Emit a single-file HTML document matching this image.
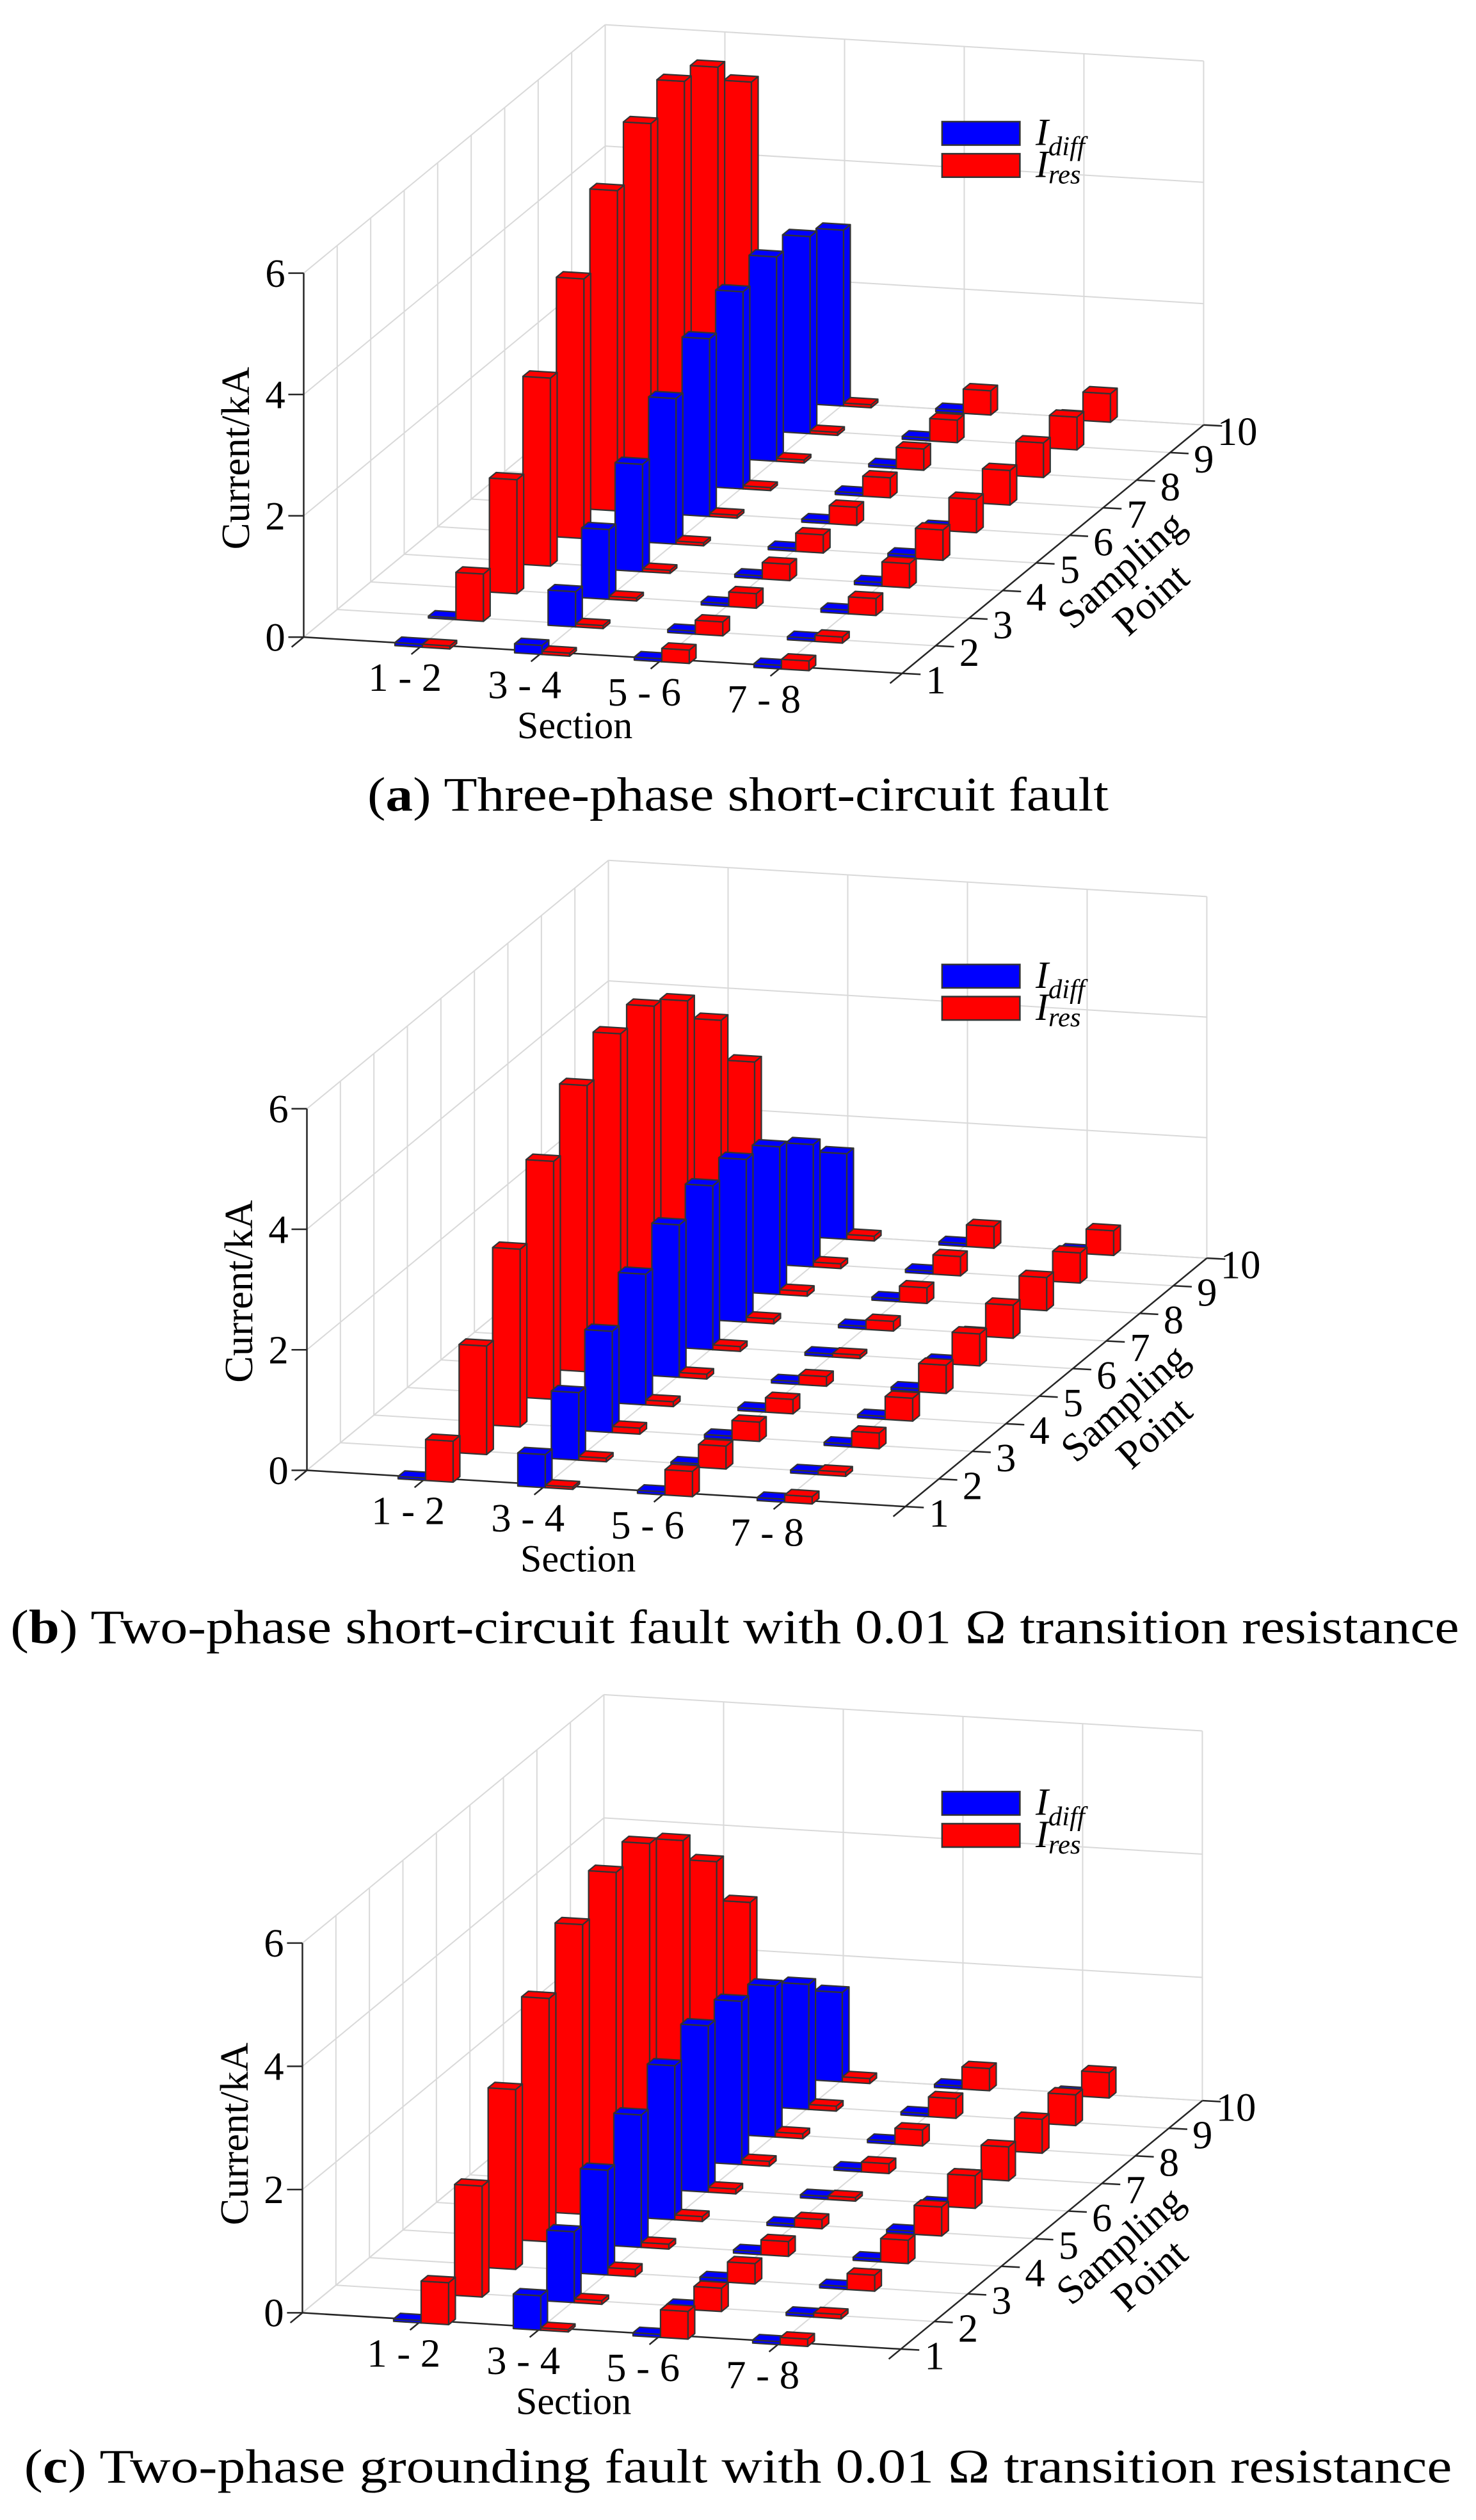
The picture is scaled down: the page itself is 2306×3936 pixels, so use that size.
<!DOCTYPE html>
<html><head><meta charset="utf-8"><style>
html,body{margin:0;padding:0;background:#fff;}
svg{display:block;font-family:"Liberation Serif","Times New Roman",Times,serif;}
svg text{font-family:"Liberation Serif","Times New Roman",Times,serif;fill:#000;}
</style></head>
<body>
<svg id="fig" xmlns="http://www.w3.org/2000/svg" width="2306" height="3936" viewBox="0 0 920 1570.3" preserveAspectRatio="none" font-family="Liberation Serif, Times New Roman, Times, serif">
<rect x="0" y="0" width="920" height="1570.3" fill="#fff"/>
<text x="460" y="505" text-anchor="middle" font-size="30" textLength="462" lengthAdjust="spacingAndGlyphs" font-family="Liberation Serif, Times New Roman, serif">(<tspan font-weight="bold">a</tspan>) Three-phase short-circuit fault</text>
<text x="458" y="1024" text-anchor="middle" font-size="30" textLength="903" lengthAdjust="spacingAndGlyphs" font-family="Liberation Serif, Times New Roman, serif">(<tspan font-weight="bold">b</tspan>) Two-phase short-circuit fault with 0.01 Ω transition resistance</text>
<text x="460" y="1547" text-anchor="middle" font-size="30" textLength="890" lengthAdjust="spacingAndGlyphs" font-family="Liberation Serif, Times New Roman, serif">(<tspan font-weight="bold">c</tspan>) Two-phase grounding fault with 0.01 Ω transition resistance</text>
</svg>
<script>
const sections = ['1 - 2','3 - 4','5 - 6','7 - 8'];
const samplingTicks = [1,2,3,4,5,6,7,8,9,10];
const zTicks = [0,2,4,6];
// panel (a) values, kA: one row per section, one value per sampling point
const aDiff = [
  [0.05,0.03,0.03,0.03,0.03,0.03,0.03,0.03,0.03,0.03],
  [0.15,0.58,1.15,1.77,2.40,2.93,3.25,3.37,3.25,2.90],
  [0.05,0.05,0.05,0.05,0.05,0.05,0.05,0.05,0.05,0.05],
  [0.06,0.05,0.06,0.06,0.06,0.06,0.06,0.06,0.06,0.06]];
const aRes = [
  [0.05,0.78,1.88,3.10,4.28,5.28,5.93,6.17,5.95,5.25],
  [0.05,0.05,0.05,0.05,0.05,0.05,0.05,0.05,0.05,0.05],
  [0.22,0.23,0.24,0.27,0.30,0.30,0.33,0.35,0.37,0.40],
  [0.16,0.10,0.28,0.40,0.50,0.55,0.57,0.57,0.54,0.47]];
const bDiff = [
  [0.04,0.03,0.03,0.03,0.03,0.03,0.03,0.03,0.03,0.03],
  [0.55,1.12,1.68,2.17,2.53,2.72,2.70,2.45,2.03,1.42],
  [0.05,0.06,0.06,0.05,0.05,0.05,0.05,0.05,0.05,0.05],
  [0.05,0.05,0.05,0.05,0.05,0.05,0.05,0.05,0.05,0.05]];
const bRes = [
  [0.68,1.80,2.95,3.95,4.75,5.15,5.15,4.78,4.00,2.85],
  [0.04,0.06,0.10,0.08,0.08,0.08,0.08,0.08,0.08,0.08],
  [0.42,0.38,0.32,0.24,0.16,0.06,0.16,0.26,0.32,0.36],
  [0.12,0.07,0.26,0.38,0.47,0.53,0.55,0.55,0.50,0.41]];
const cDiff = [
  [0.04,0.03,0.03,0.03,0.03,0.03,0.03,0.03,0.03,0.03],
  [0.56,1.15,1.70,2.15,2.50,2.70,2.65,2.45,2.03,1.45],
  [0.05,0.06,0.06,0.05,0.05,0.05,0.05,0.05,0.05,0.05],
  [0.05,0.05,0.05,0.05,0.05,0.05,0.05,0.05,0.05,0.05]];
const cRes = [
  [0.68,1.80,2.92,3.95,4.70,5.10,5.12,4.72,3.93,2.82],
  [0.04,0.06,0.12,0.08,0.08,0.08,0.08,0.08,0.08,0.08],
  [0.45,0.38,0.33,0.24,0.15,0.06,0.16,0.26,0.32,0.36],
  [0.12,0.07,0.26,0.38,0.47,0.53,0.55,0.55,0.50,0.41]];

const NS = 'http://www.w3.org/2000/svg';
const FF = 'Liberation Serif, Times New Roman, Times, serif';
const svg = document.getElementById('fig');
const SU = [74.6, 4.52], SV = [20.88, -17.2];
const panels = [
  {id:'a', ox:189.3, oy:397.0, zs:37.8, diff:aDiff, res:aRes, leg:75.8},
  {id:'b', ox:191.3, oy:916.2, zs:37.55, diff:bDiff, res:bRes, leg:601.0},
  {id:'c', ox:188.5, oy:1441.2, zs:38.4, diff:cDiff, res:cRes, leg:1116.4}
];
function mk(tag, attrs, parent){ const e=document.createElementNS(NS,tag); for(const k in attrs) e.setAttribute(k,attrs[k]); if(tag==='text') e.setAttribute('font-family', FF); (parent||svg).appendChild(e); return e; }
panels.forEach(p => {
  const g = mk('g', {});
  
  
  const P = (u,v,z) => [p.ox + u*SU[0] + v*SV[0], p.oy + u*SU[1] + v*SV[1] - z*p.zs];
  const uMax = 5, vMax = samplingTicks.length - 1, zMax = zTicks[zTicks.length-1];
  const line = (a,b,stroke,w,name) => { const l = mk('line',{x1:a[0],y1:a[1],x2:b[0],y2:b[1],stroke:stroke,'stroke-width':w},g);
    
     return l; };
  const GC = '#d9d9d9', GW = 0.8;
  for (let u=0; u<=uMax; u++) line(P(u,vMax,0), P(u,vMax,zMax), GC, GW, 'grid-line');
  zTicks.forEach(z => line(P(0,vMax,z), P(uMax,vMax,z), GC, GW, 'grid-line'));
  for (let v=0; v<=vMax; v++) line(P(0,v,0), P(0,v,zMax), GC, GW, 'grid-line');
  zTicks.forEach(z => line(P(0,0,z), P(0,vMax,z), GC, GW, 'grid-line'));
  for (let v=0; v<=vMax; v++) line(P(0,v,0), P(uMax,v,0), GC, GW, 'grid-line');
  for (let u=0; u<=uMax; u++) line(P(u,0,0), P(u,vMax,0), GC, GW, 'grid-line');
  const AC = '#262626';
  line(P(0,0,0), P(uMax,0,0), AC, 1, 'x-axis-line');
  line(P(uMax,0,0), P(uMax,vMax,0), AC, 1, 'y-axis-line');
  line(P(0,0,0), P(0,0,zMax), AC, 1, 'z-axis-line');
  for (let u=0; u<=uMax; u++) { const a=P(u,0,0); line(a,[a[0]-0.36*SV[0], a[1]-0.36*SV[1]], AC, 1, 'x-tick'); }
  sections.forEach((s,i) => { const a=P(i+1,0,0);
    const t = mk('text',{x:a[0]-11.5, y:a[1]+29, 'text-anchor':'middle','font-size':25},g); t.textContent = s;
    
     });
  { const a=P(0,0,0); const t=mk('text',{x:a[0]+169, y:a[1]+63,'text-anchor':'middle','font-size':24},g); t.textContent='Section';
    
     }
  samplingTicks.forEach((s,i) => { const a=P(uMax,i,0); line(a,[a[0]+11.5,a[1]+0.6], AC, 1, 'y-tick');
    const t = mk('text',{x:a[0]+21, y:a[1]+12.5, 'text-anchor':'middle','font-size':25},g); t.textContent = s;
    
     });
  { const a=P(0,0,0);
    const t1=mk('text',{x:a[0]+509.5, y:a[1]-42,'text-anchor':'middle','font-size':25,transform:`rotate(-41.6 ${a[0]+509.5} ${a[1]-42})`,'dominant-baseline':'central'},g); t1.textContent='Sampling';
    
    
    const t2=mk('text',{x:a[0]+528, y:a[1]-23.5,'text-anchor':'middle','font-size':25,transform:`rotate(-41.6 ${a[0]+528} ${a[1]-23.5})`,'dominant-baseline':'central'},g); t2.textContent='Point';
    
     }
  zTicks.forEach(z => { const a=P(0,0,z); line(a,[a[0]-9.6,a[1]], AC, 1, 'z-tick');
    const t=mk('text',{x:a[0]-11.5, y:a[1]+8.5,'text-anchor':'end','font-size':25},g); t.textContent=z;
    
     });
  { const a=P(0,0,0); const cx=a[0]-42.5, cy=a[1]-111.5;
    const t=mk('text',{x:cx, y:cy,'text-anchor':'middle','dominant-baseline':'central','font-size':25,transform:`rotate(-90 ${cx} ${cy})`},g); t.textContent='Current/kA';
    
     }
  const d = 0.1, EC = '#333', EW = 0.9;
  const poly = (pts, fill, name) => { const e = mk('polygon',{points:pts.map(q=>q[0].toFixed(2)+','+q[1].toFixed(2)).join(' '), fill:fill, stroke:EC,'stroke-width':EW,'stroke-linejoin':'round'},g);
    
     };
  const bar = (u0,u1,v,h,fill,name) => {
    const v0=v-d, v1=v+d;
    poly([P(u0,v0,0),P(u1,v0,0),P(u1,v0,h),P(u0,v0,h)], fill, name);
    poly([P(u1,v0,0),P(u1,v1,0),P(u1,v1,h),P(u1,v0,h)], fill, name);
    poly([P(u0,v0,h),P(u1,v0,h),P(u1,v1,h),P(u0,v1,h)], fill, name);
  };
  for (let v=vMax; v>=0; v--) {
    for (let k=0; k<sections.length; k++) {
      const c = k+1;
      bar(c-0.21, c+0.02, v, p.diff[k][v], '#0000ff', 'bar-idiff');
      bar(c+0.02, c+0.25, v, p.res[k][v], '#ff0000', 'bar-ires');
    }
  }
  const lg = mk('g',{},g);
  
  
  const r1 = mk('rect',{x:587.2,y:p.leg,width:48.5,height:14.6,fill:'#0000ff',stroke:'#333','stroke-width':1},lg);
  
  
  const r2 = mk('rect',{x:587.2,y:p.leg+20,width:48.5,height:14.6,fill:'#ff0000',stroke:'#333','stroke-width':1},lg);
  
  
  const t1 = mk('text',{x:645.5,y:p.leg+14.5,'font-size':24,'font-style':'italic'},lg);
  t1.innerHTML = 'I<tspan font-size="17" dy="6.5">diff</tspan>';
  
  
  const t2 = mk('text',{x:645.5,y:p.leg+34.6,'font-size':24,'font-style':'italic'},lg);
  t2.innerHTML = 'I<tspan font-size="17" dy="4">res</tspan>';
  
  
});
</script>
</body></html>
